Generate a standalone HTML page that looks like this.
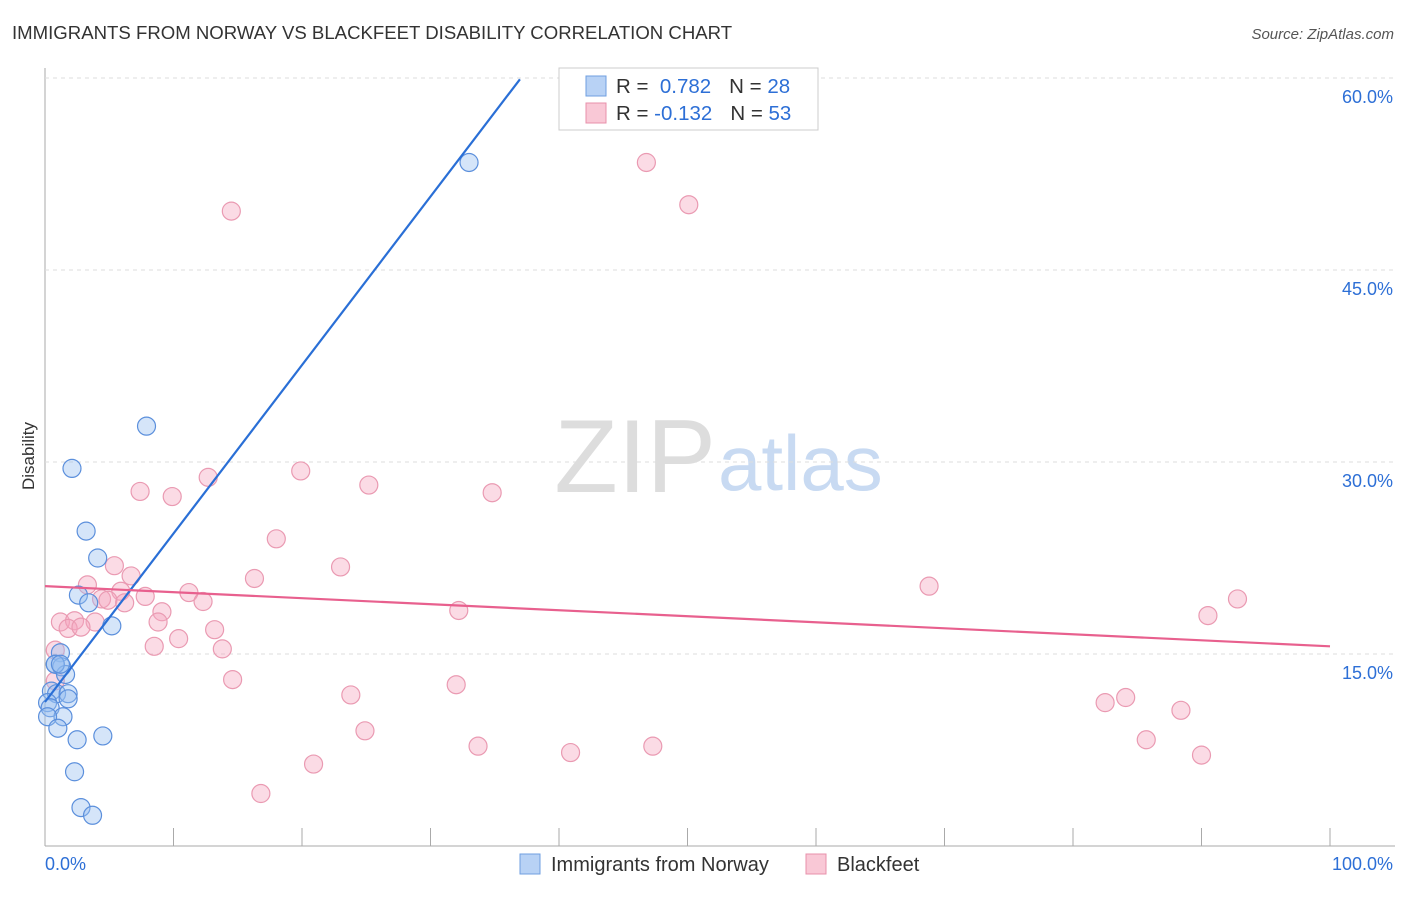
<!DOCTYPE html>
<html><head><meta charset="utf-8"><style>
body{margin:0;background:#fff;font-family:"Liberation Sans",sans-serif}
svg text{font-family:"Liberation Sans",sans-serif}
</style></head><body>
<svg id="c" width="1406" height="892">
<text x="12" y="39" font-size="18.6" fill="#333">IMMIGRANTS FROM NORWAY VS BLACKFEET DISABILITY CORRELATION CHART</text>
<text x="1394" y="39" font-size="15" fill="#555" font-style="italic" text-anchor="end">Source: ZipAtlas.com</text>
<text x="34" y="456" font-size="17" fill="#333" transform="rotate(-90 34 456)" text-anchor="middle">Disability</text>
<text x="716" y="492" font-size="104" fill="#ddd" text-anchor="end" font-family="Liberation Serif">ZIP</text>
<text x="718" y="490" font-size="78" fill="#c8daf2">atlas</text>
<g id="grid"></g><g id="pts"></g><g id="lines"></g>
<g>
<rect x="559" y="68" width="259" height="62" fill="#fff" stroke="#ccc"/>
<rect x="586" y="76" width="20" height="20" fill="#b8d2f5" stroke="#6f9fe0"/>
<rect x="586" y="103" width="20" height="20" fill="#f9c8d6" stroke="#e890ab"/>
<text x="616" y="93" font-size="20.5" fill="#333">R = <tspan fill="#2d6fd6">&#160;0.782</tspan><tspan dx="18" fill="#333">N = </tspan><tspan fill="#2d6fd6">28</tspan></text>
<text x="616" y="120" font-size="20.5" fill="#333">R = <tspan fill="#2d6fd6">-0.132</tspan><tspan dx="18" fill="#333">N = </tspan><tspan fill="#2d6fd6">53</tspan></text>
</g>
<g>
<rect x="520" y="854" width="20" height="20" fill="#b8d2f5" stroke="#6f9fe0"/>
<text x="551" y="871" font-size="20" fill="#333">Immigrants from Norway</text>
<rect x="806" y="854" width="20" height="20" fill="#f9c8d6" stroke="#e890ab"/>
<text x="837" y="871" font-size="20" fill="#333">Blackfeet</text>
</g>
<text x="45" y="870" font-size="18" fill="#2d6fd6">0.0%</text>
<text x="1393" y="870" font-size="18" fill="#2d6fd6" text-anchor="end">100.0%</text>
</svg>
<script>
const yTicks=[15,30,45,60];
const xTicks=[0,10,20,30,40,50,60,70,80,90,100];
const blueX=[33.0,7.9,2.1,3.2,4.1,2.6,3.4,5.2,1.2,0.8,1.3,1.6,0.5,0.9,1.8,1.8,0.2,0.4,1.4,0.2,1.0,2.5,4.5,2.3,2.8,3.7,0.8,1.2];
const blueY=[53.4,32.8,29.5,24.6,22.5,19.6,19.0,17.2,15.1,14.2,14.0,13.4,12.1,11.9,11.9,11.5,11.2,10.8,10.1,10.1,9.2,8.3,8.6,5.8,3.0,2.4,14.2,14.2];
const pinkX=[14.5,46.8,50.1,7.4,9.9,12.7,19.9,25.2,34.8,18.0,5.4,6.7,3.3,5.9,11.2,16.3,23.0,4.4,4.9,6.2,7.8,12.3,1.2,2.3,3.9,1.8,2.8,9.1,8.8,32.2,13.2,10.4,8.5,13.8,0.8,14.6,23.8,32.0,24.9,20.9,16.8,33.7,40.9,47.3,68.8,92.8,90.5,82.5,84.1,88.4,85.7,90.0,0.8];
const pinkY=[49.6,53.4,50.1,27.7,27.3,28.8,29.3,28.2,27.6,24.0,21.9,21.1,20.4,19.9,19.8,20.9,21.8,19.3,19.2,19.0,19.5,19.1,17.5,17.6,17.5,17.0,17.1,18.3,17.5,18.4,16.9,16.2,15.6,15.4,15.3,13.0,11.8,12.6,9.0,6.4,4.1,7.8,7.3,7.8,20.3,19.3,18.0,11.2,11.6,10.6,8.3,7.1,12.9];
const blueLine=[[0,11.25],[36.96,59.9]];
const pinkLine=[[0,20.3],[100,15.6]];
const X=v=>45+v*12.85, Y=v=>846-v*12.8;
const NS="http://www.w3.org/2000/svg";
function mk(t,a,p){const e=document.createElementNS(NS,t);for(const k in a)e.setAttribute(k,a[k]);p.appendChild(e);return e;}
const g=document.getElementById('grid');
const ax=mk('line',{x1:45,y1:68,x2:45,y2:846,stroke:'#aaa'},g);


const bx=mk('line',{x1:45,y1:846,x2:1395,y2:846,stroke:'#aaa'},g);


yTicks.forEach(t=>{
 const l=mk('line',{x1:45,y1:Y(t),x2:1395,y2:Y(t),stroke:'#ddd','stroke-dasharray':'4,4'},g);
 
 
 const tx=mk('text',{x:1393,y:Y(t)+25,'font-size':18,fill:'#2d6fd6','text-anchor':'end'},g);
 tx.textContent=t.toFixed(1)+'%';
 
 
});
xTicks.forEach(t=>{
 const l=mk('line',{x1:X(t),y1:828,x2:X(t),y2:846,stroke:'#aaa'},g);
 
 
});
const p=document.getElementById('pts');
pinkX.forEach((x,i)=>{
 const c=mk('circle',{cx:X(x),cy:Y(pinkY[i]),r:9,fill:'rgba(245,165,190,0.4)',stroke:'#ea9ab2','stroke-width':1.2},p);
 
 
});
blueX.forEach((x,i)=>{
 const c=mk('circle',{cx:X(x),cy:Y(blueY[i]),r:9,fill:'rgba(150,190,240,0.4)',stroke:'#5b8fdc','stroke-width':1.2},p);
 
 
});
const L=document.getElementById('lines');
const b=mk('line',{x1:X(blueLine[0][0]),y1:Y(blueLine[0][1]),x2:X(blueLine[1][0]),y2:Y(blueLine[1][1]),stroke:'#2a6fd6','stroke-width':2.2},L);


const pk=mk('line',{x1:X(pinkLine[0][0]),y1:Y(pinkLine[0][1]),x2:X(pinkLine[1][0]),y2:Y(pinkLine[1][1]),stroke:'#e8608e','stroke-width':2.2},L);


</script>
</body></html>
